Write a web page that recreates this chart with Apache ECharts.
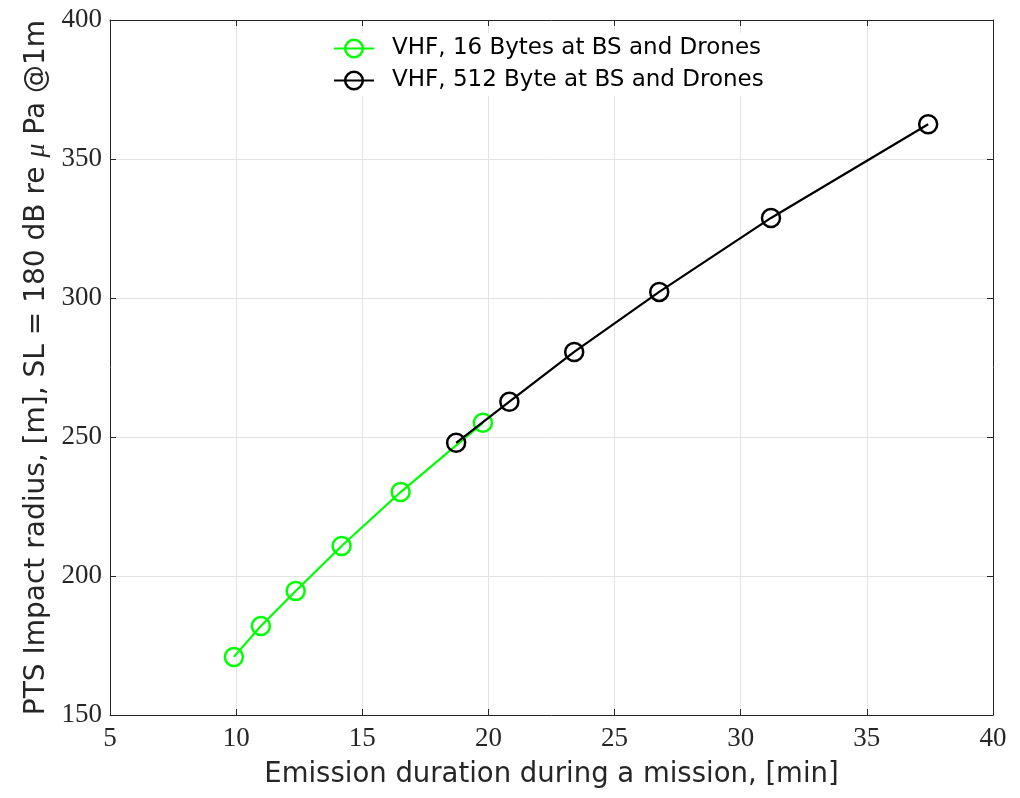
<!DOCTYPE html>
<html>
<head>
<meta charset="utf-8">
<script src="https://cdn.jsdelivr.net/npm/echarts@6/dist/echarts.min.js"></script>
<style>html,body{margin:0;padding:0;background:#fff;}#c{width:1020px;height:798px;}</style>
</head>
<body>
<div id="c"></div>
<script>
const greenName = 'VHF, 16 Bytes at BS and Drones';
const blackName = 'VHF, 512 Byte at BS and Drones';
const greenX = [9.91, 10.98, 12.36, 14.18, 16.52, 19.78];
const greenY = [170.9, 182.0, 194.6, 210.8, 230.2, 255.1];
const blackX = [18.72, 20.83, 23.40, 26.77, 31.20, 37.43];
const blackY = [247.9, 262.7, 280.6, 302.2, 328.8, 362.5];

const chart = echarts.init(document.getElementById('c'), null, {renderer: 'canvas'});
const zip = (xs, ys) => xs.map((x, i) => [x, ys[i]]);
const serif = '"Liberation Serif", "DejaVu Serif", serif';
const sans = '"DejaVu Sans", "Liberation Sans", Arial, sans-serif';
const axisCol = '#262626';
const clear = 'rgba(0,0,0,0)';
const tickOnly = {
  axisLine: {show: true, lineStyle: {color: axisCol}},
  axisTick: {show: true, inside: true, length: 6, lineStyle: {color: axisCol}},
  axisLabel: {show: false},
  splitLine: {show: false}
};
chart.setOption({
  animation: false,
  backgroundColor: '#fff',
  grid: {left: 110, right: 27, top: 20, bottom: 83, show: false},
  legend: {
    top: 33, left: 333, orient: 'vertical', itemGap: 9,
    itemWidth: 40, itemHeight: 22, backgroundColor: '#fff', padding: [4, 6, 4, 0],
    textStyle: {fontFamily: sans, fontSize: 23, color: '#000', padding: [0, 0, 0, 13]},
    data: [
      {name: greenName, itemStyle: {color: clear, borderColor: '#00ff00', borderWidth: 2.5}},
      {name: blackName, itemStyle: {color: clear, borderColor: '#000', borderWidth: 2.5}}
    ]
  },
  xAxis: [{
    type: 'value', min: 5, max: 40, interval: 5,
    name: 'Emission duration during a mission, [min]', nameLocation: 'middle', nameGap: 46,
    nameTextStyle: {fontFamily: sans, fontSize: 27.5, color: axisCol},
    axisLine: {show: true, lineStyle: {color: axisCol}},
    axisTick: {show: true, inside: true, length: 6, lineStyle: {color: axisCol}},
    axisLabel: {fontFamily: serif, fontSize: 27, color: axisCol, margin: 10},
    splitLine: {show: true, lineStyle: {color: '#e3e3e3', width: 1}}
  }, Object.assign({type: 'value', position: 'top', min: 5, max: 40, interval: 5}, tickOnly)],
  yAxis: [{
    type: 'value', min: 150, max: 400, interval: 50,
    name: '{n|PTS Impact radius, [m], SL = 180 dB re }{mu|μ}{n| Pa @1m}', nameLocation: 'middle', nameGap: 56,
    nameTextStyle: {rich: {n: {fontFamily: sans, fontSize: 28, color: axisCol}, mu: {fontFamily: serif, fontStyle: 'italic', fontSize: 28, color: axisCol}}},
    axisLine: {show: true, lineStyle: {color: axisCol}},
    axisTick: {show: true, inside: true, length: 6, lineStyle: {color: axisCol}},
    axisLabel: {fontFamily: serif, fontSize: 27, color: axisCol, margin: 8},
    splitLine: {show: true, lineStyle: {color: '#e3e3e3', width: 1}}
  }, Object.assign({type: 'value', position: 'right', min: 150, max: 400, interval: 50}, tickOnly)],
  series: [
    {name: greenName, type: 'line', xAxisIndex: 0, yAxisIndex: 0, data: zip(greenX, greenY), symbol: 'circle', symbolSize: 18,
     lineStyle: {color: '#00ff00', width: 2.2}, itemStyle: {color: clear, borderColor: '#00ff00', borderWidth: 2.5}, color: '#00ff00', z: 2},
    {name: blackName, type: 'line', xAxisIndex: 0, yAxisIndex: 0, data: zip(blackX, blackY), symbol: 'circle', symbolSize: 18,
     lineStyle: {color: '#000', width: 2.2}, itemStyle: {color: clear, borderColor: '#000', borderWidth: 2.5}, color: '#000', z: 3}
  ]
});
</script>
</body>
</html>
